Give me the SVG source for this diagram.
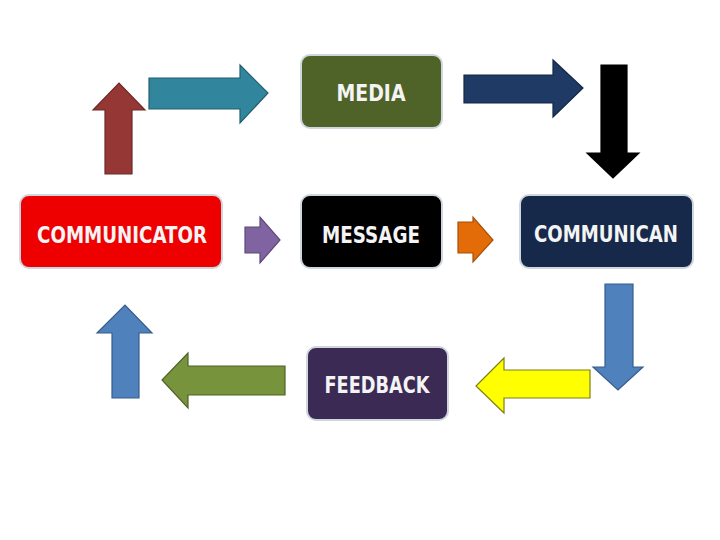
<svg xmlns="http://www.w3.org/2000/svg" width="720" height="540" viewBox="0 0 720 540">
<style>
.box{stroke:#cfd6de;stroke-width:2}
.lbl{font-family:"DejaVu Sans Condensed","DejaVu Sans",sans-serif;font-weight:bold;font-size:23px;fill:#f4f4f4;text-anchor:middle}
.arr{stroke-width:1.2;stroke-linejoin:miter}
</style>
<rect width="720" height="540" fill="#ffffff"/>
<g id="connectors">
  <!-- red up arrow from COMMUNICATOR -->
  <polygon class="arr" fill="#953735" stroke="#6d2a28" points="105,174 132,174 132,110 145,110 119,83 93,110 105,110"/>
  <!-- teal right arrow to MEDIA -->
  <polygon class="arr" fill="#31859c" stroke="#235f70" points="149,78 240,78 240,65 268,93 240,123 240,109 149,109"/>
  <!-- navy right arrow from MEDIA -->
  <polygon class="arr" fill="#1f3a64" stroke="#142745" points="464,75 553,75 553,60 583,88 553,117 553,103 464,103"/>
  <!-- black down arrow to COMMUNICAN -->
  <polygon class="arr" fill="#000000" stroke="#000000" points="601,65 627,65 627,153 639,153 613,178 587,153 601,153"/>
  <!-- purple arrow to MESSAGE -->
  <polygon class="arr" fill="#8064a2" stroke="#5d4878" points="245,227 260,227 260,217 280,240 260,263 260,253 245,253"/>
  <!-- orange arrow to COMMUNICAN -->
  <polygon class="arr" fill="#e36c09" stroke="#a84f06" points="458,222 473,222 473,217 493,240 473,262 473,253 458,253"/>
  <!-- blue down arrow from COMMUNICAN -->
  <polygon class="arr" fill="#4f81bd" stroke="#385d8a" points="605,284 633,284 633,367 643,367 618,390 593,367 605,367"/>
  <!-- yellow left arrow to FEEDBACK -->
  <polygon class="arr" fill="#ffff00" stroke="#7f7f1a" points="590,370 504,370 504,358 476,386 504,413 504,398 590,398"/>
  <!-- green left arrow from FEEDBACK -->
  <polygon class="arr" fill="#77933c" stroke="#4f6228" points="285,366 188,366 188,353 162,380 188,408 188,395 285,395"/>
  <!-- blue up arrow to COMMUNICATOR -->
  <polygon class="arr" fill="#4f81bd" stroke="#385d8a" points="112,398 139,398 139,333 152,333 125,305 97,333 112,333"/>
</g>
<g id="media">
  <rect class="box" x="301" y="55" width="141" height="73" rx="9" fill="#4f6228"/>
  <text class="lbl" x="371" y="101" textLength="69" lengthAdjust="spacingAndGlyphs">MEDIA</text>
</g>
<g id="communicator">
  <rect class="box" x="20" y="195" width="202" height="73" rx="9" fill="#ee0000"/>
  <text class="lbl" x="122" y="243" textLength="170" lengthAdjust="spacingAndGlyphs">COMMUNICATOR</text>
</g>
<g id="message">
  <rect class="box" x="301" y="195" width="141" height="73" rx="9" fill="#000000"/>
  <text class="lbl" x="371" y="243" textLength="98" lengthAdjust="spacingAndGlyphs">MESSAGE</text>
</g>
<g id="communican">
  <rect class="box" x="520" y="195" width="173" height="73" rx="9" fill="#17294a"/>
  <text class="lbl" x="606" y="242" textLength="144" lengthAdjust="spacingAndGlyphs">COMMUNICAN</text>
</g>
<g id="feedback">
  <rect class="box" x="307" y="347" width="141" height="73" rx="9" fill="#3b2b54"/>
  <text class="lbl" x="377" y="393" textLength="105" lengthAdjust="spacingAndGlyphs">FEEDBACK</text>
</g>
</svg>
